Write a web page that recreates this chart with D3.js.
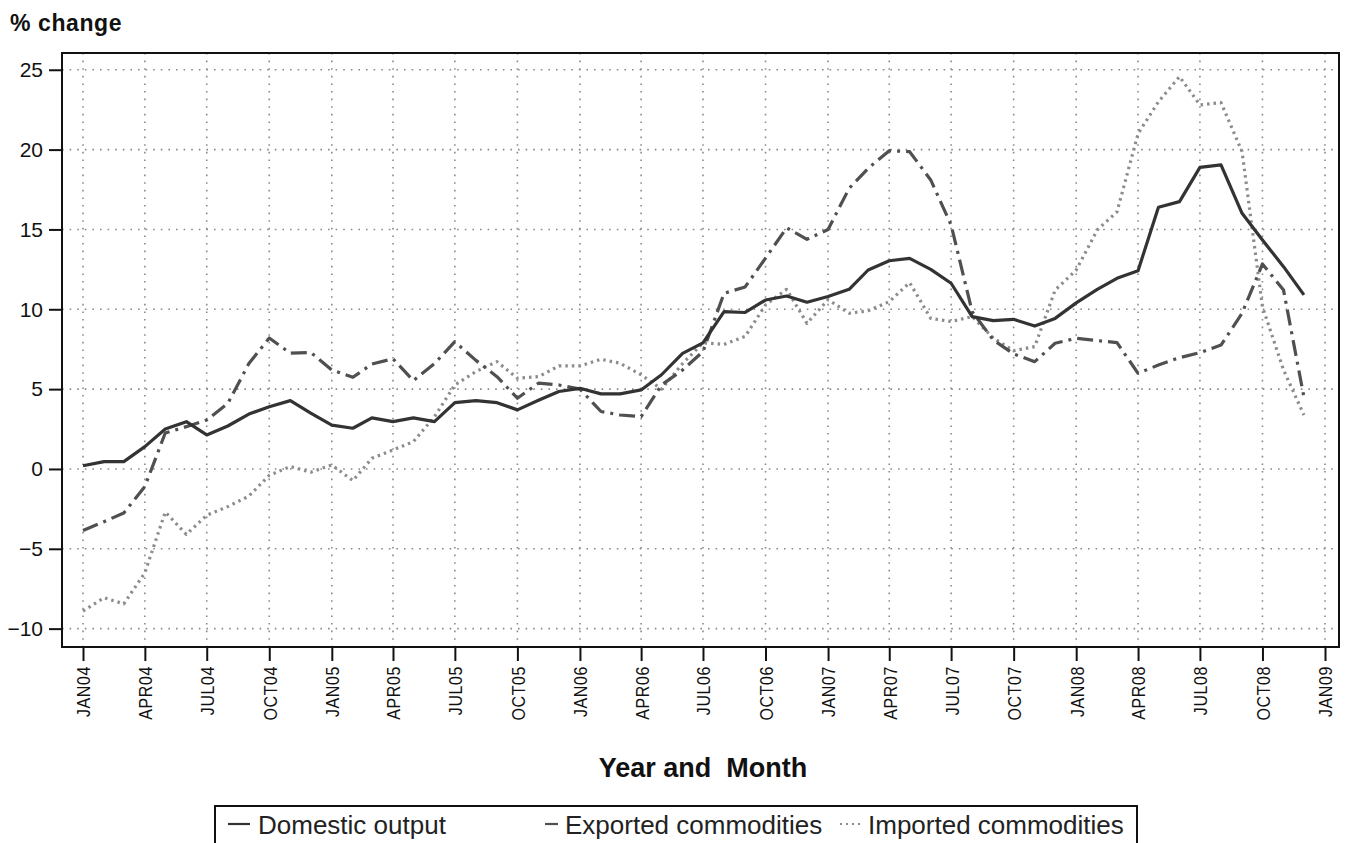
<!DOCTYPE html>
<html>
<head>
<meta charset="utf-8">
<script src="https://cdn.jsdelivr.net/npm/d3@7"></script>
<style>
  html, body { margin: 0; padding: 0; background: #fff; }
  svg { display: block; }
  text { font-family: "Liberation Sans", Arial, sans-serif; }
</style>
</head>
<body>
<svg id="chart" width="1348" height="843"></svg>
<script>
// ---- Data (percent change, monthly JAN04 .. DEC08) ----
const startMonth = "2004-01";
const domesticOutput = [
  0.2, 0.46, 0.46, 1.4, 2.5, 2.96, 2.13, 2.69, 3.44, 3.9, 4.28, 3.5,
  2.75, 2.55, 3.2, 2.96, 3.2, 2.96, 4.15, 4.28, 4.15, 3.7, 4.3, 4.85,
  5.05, 4.7, 4.7, 4.95, 5.9, 7.24, 7.9, 9.85, 9.8, 10.58, 10.83, 10.44,
  10.8, 11.25, 12.46, 13.04, 13.19, 12.5, 11.63, 9.54, 9.29, 9.37, 8.95, 9.43,
  10.4, 11.25, 11.94, 12.42, 16.39, 16.74, 18.89, 19.04, 16.01, 14.34, 12.67, 10.9
];
const exportedCommodities = [
  -3.86, -3.3, -2.76, -1.1, 2.25, 2.65, 3.07, 4.1, 6.6, 8.2, 7.25, 7.3,
  6.2, 5.74, 6.57, 6.9, 5.53, 6.6, 7.97, 6.8, 5.78, 4.43, 5.37, 5.26,
  5.0, 3.6, 3.38, 3.28, 5.26, 6.2, 7.35, 11.0, 11.4, 13.2, 15.1, 14.38,
  15.0, 17.57, 18.83, 19.93, 19.87, 18.1, 15.28, 9.85, 8.08, 7.2, 6.72, 7.87,
  8.18, 8.04, 7.91, 5.99, 6.51, 6.97, 7.28, 7.76, 9.75, 12.84, 11.2, 4.5
];
const importedCommodities = [
  -8.9, -8.06, -8.45, -6.5, -2.7, -4.1, -2.9, -2.36, -1.7, -0.4, 0.15, -0.2,
  0.25, -0.73, 0.67, 1.19, 1.71, 3.27, 5.26, 6.1, 6.72, 5.68, 5.78, 6.45,
  6.45, 6.87, 6.62, 5.9, 5.0, 6.6, 7.9, 7.8, 8.3, 10.27, 11.25, 9.12,
  10.6, 9.75, 9.91, 10.48, 11.67, 9.43, 9.23, 9.54, 8.2, 7.4, 7.66, 11.2,
  12.46, 14.97, 16.1, 21.0, 23.0, 24.57, 22.8, 22.94, 19.87, 10.16, 6.2, 3.38
];
const seriesNames = ["Domestic output", "Exported commodities", "Imported commodities"];
const yTickValues = [-10, -5, 0, 5, 10, 15, 20, 25];
const xTickLabels = ["JAN04","APR04","JUL04","OCT04","JAN05","APR05","JUL05","OCT05",
  "JAN06","APR06","JUL06","OCT06","JAN07","APR07","JUL07","OCT07",
  "JAN08","APR08","JUL08","OCT08","JAN09"];
const yLabel = "% change";
const xLabel = "Year and  Month";

// ---- Layout ----
const svg = d3.select("#chart");
const frame = { left: 62, right: 1339, top: 53, bottom: 647 };

const parseMonth = d3.timeParse("%Y-%m");
const t0 = parseMonth(startMonth);
const months = domesticOutput.map((_, i) => d3.timeMonth.offset(t0, i));
const tickDates = xTickLabels.map((_, i) => d3.timeMonth.offset(t0, i * 3));

const x = d3.scaleTime()
  .domain([t0, d3.timeMonth.offset(t0, 60)])
  .range([83, 1325]);
const y = d3.scaleLinear()
  .domain([-11.15, 26.05])
  .range([frame.bottom, frame.top]);

// gridlines
const grid = svg.append("g");
grid.selectAll("line.h").data(yTickValues).join("line")
  .attr("x1", frame.left).attr("x2", frame.right)
  .attr("y1", d => y(d)).attr("y2", d => y(d))
  .attr("stroke", "#8a8a8a").attr("stroke-width", 1.6)
  .attr("stroke-dasharray", "1.6,6");
grid.selectAll("line.v").data(tickDates).join("line")
  .attr("y1", frame.top).attr("y2", frame.bottom)
  .attr("x1", d => x(d)).attr("x2", d => x(d))
  .attr("stroke", "#8a8a8a").attr("stroke-width", 1.6)
  .attr("stroke-dasharray", "1.6,6");

// Y axis
const yAxis = d3.axisLeft(y).tickValues(yTickValues).tickSize(13).tickPadding(6);
const gy = svg.append("g").attr("transform", `translate(${frame.left},0)`).call(yAxis);
gy.select(".domain").remove();
gy.selectAll(".tick line").attr("stroke", "#111").attr("stroke-width", 2);
gy.selectAll(".tick text").attr("font-size", 21).attr("fill", "#111")
  .attr("font-family", "Liberation Sans, Arial, sans-serif");

// X axis
const xAxis = d3.axisBottom(x).tickValues(tickDates)
  .tickFormat((d, i) => xTickLabels[i]).tickSize(14).tickPadding(4);
const gx = svg.append("g").attr("transform", `translate(0,${frame.bottom})`).call(xAxis);
gx.select(".domain").remove();
gx.selectAll(".tick line").attr("stroke", "#111").attr("stroke-width", 2);
gx.selectAll(".tick text")
  .attr("font-size", 16).attr("fill", "#111")
  .attr("font-family", "Liberation Sans, Arial, sans-serif")
  .attr("letter-spacing", "0.6px")
  .attr("text-anchor", "end")
  .attr("transform", "rotate(-90) scale(1,1.2)")
  .attr("x", -19).attr("y", 0).attr("dy", "0.36em");

// frame
svg.append("rect")
  .attr("x", frame.left).attr("y", frame.top)
  .attr("width", frame.right - frame.left).attr("height", frame.bottom - frame.top)
  .attr("fill", "none").attr("stroke", "#111").attr("stroke-width", 2);

// lines
const styles = [
  { data: domesticOutput, color: "#333", width: 3.2, dash: null },
  { data: exportedCommodities, color: "#505050", width: 3.2, dash: "16,6,3,6" },
  { data: importedCommodities, color: "#8c8c8c", width: 3.2, dash: "2.5,4" }
];
const line = d3.line().x((d, i) => x(months[i])).y(d => y(d));
const plotArea = svg.append("g");
[2, 1, 0].forEach(k => {
  const s = styles[k];
  plotArea.append("path")
    .datum(s.data)
    .attr("d", line)
    .attr("fill", "none")
    .attr("stroke", s.color)
    .attr("stroke-width", s.width)
    .attr("stroke-linejoin", "round")
    .attr("stroke-dasharray", s.dash);
});

// labels
svg.append("text").attr("x", 10).attr("y", 31)
  .attr("font-size", 23).attr("font-weight", "bold").attr("fill", "#111")
  .attr("letter-spacing", "0.6px")
  .text(yLabel);
svg.append("text").attr("x", 703).attr("y", 777)
  .attr("text-anchor", "middle")
  .attr("font-size", 27).attr("font-weight", "bold").attr("fill", "#111")
  .attr("xml:space", "preserve").style("white-space", "pre")
  .text(xLabel);

// legend
const legend = svg.append("g");
legend.append("rect").attr("x", 215).attr("y", 806).attr("width", 922).attr("height", 60)
  .attr("fill", "none").attr("stroke", "#111").attr("stroke-width", 2);
const legendItems = [
  { sx: 228, sw: 22, tx: 258 },
  { sx: 545, sw: 13, tx: 565 },
  { sx: 840, sw: 22, tx: 868 }
];
legendItems.forEach((it, k) => {
  const s = styles[k];
  legend.append("line")
    .attr("x1", it.sx).attr("x2", it.sx + it.sw)
    .attr("y1", 824).attr("y2", 824)
    .attr("stroke", s.color).attr("stroke-width", 2.2)
    .attr("stroke-dasharray", k === 2 ? "2,4" : null);
  legend.append("text").attr("x", it.tx).attr("y", 834)
    .attr("font-size", 26).attr("fill", "#222")
    .text(seriesNames[k]);
});
</script>
</body>
</html>
